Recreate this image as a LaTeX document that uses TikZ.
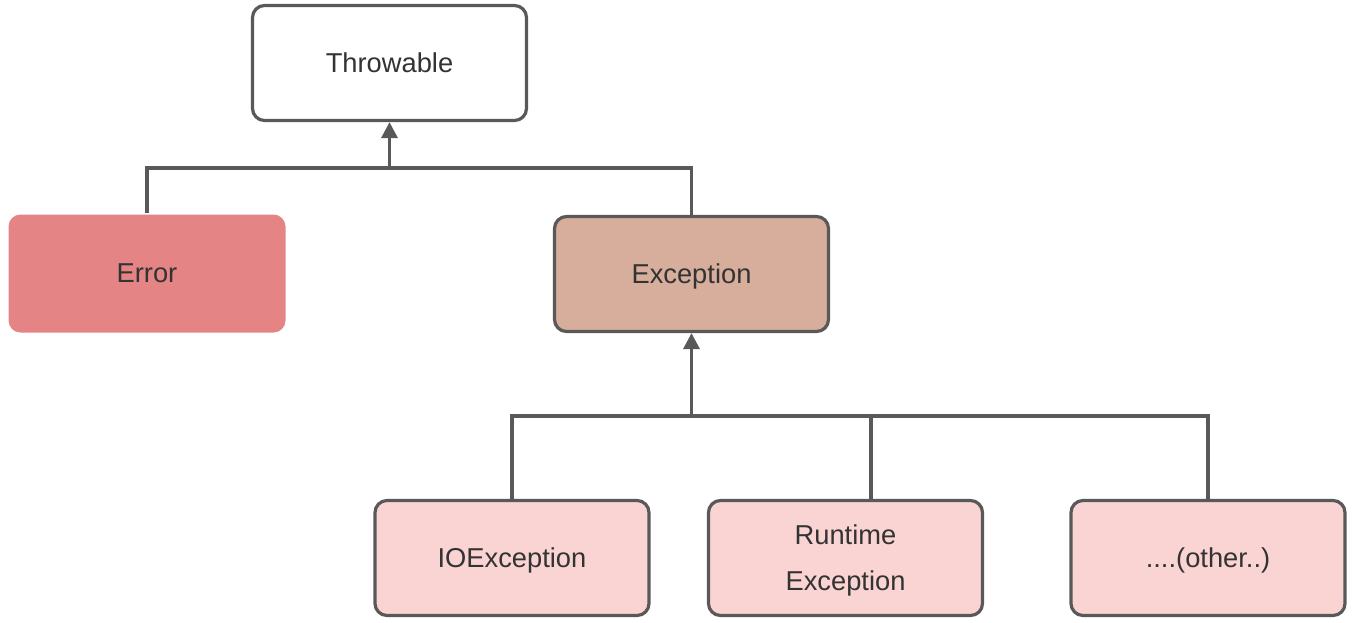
\documentclass[tikz,border=0pt]{standalone}
\usepackage{fontspec}
\setmainfont{Liberation Sans}
\usetikzlibrary{arrows.meta}
\definecolor{linegray}{HTML}{595959}
\definecolor{txt}{HTML}{333333}
\definecolor{errfill}{HTML}{E48484}
\definecolor{excfill}{HTML}{D6AE9B}
\definecolor{subfill}{HTML}{FAD4D2}
\tikzset{
  box/.style={rounded corners=12pt, minimum width=274pt, minimum height=115pt,
    line width=3.2pt, draw=linegray, text=txt, align=center,
    font=\fontsize{27.3}{46}\selectfont, inner sep=0pt},
  noborder/.style={draw=none, minimum width=277pt, minimum height=118pt},
  conn/.style={line width=3.2pt, draw=linegray},
  arr/.style={conn, -{Triangle[width=16pt,length=16pt]}}
}
\begin{document}
\begin{tikzpicture}[x=1pt,y=-1pt]
\useasboundingbox (0,0) rectangle (1355,622);
\node[box, fill=white] (thr) at (389.5,63) {\strut Throwable};
\node[box, noborder, fill=errfill] (err) at (147,273.5) {\strut Error};
\node[box, fill=excfill] (exc) at (691.5,274) {\strut Exception};
\node[box, fill=subfill] (io) at (512,558) {\strut IOException};
\node[box, fill=subfill, text depth=-3pt] (rt) at (845.5,558) {Runtime\\Exception};
\node[box, fill=subfill] (oth) at (1208,558) {\strut ....(other..)};
\coordinate (j1) at (389.5,168);
\coordinate (j2) at (691.5,416);
\draw[conn] (err.north) |- (j1) -| (exc.north);
\draw[arr] (j1) -- (thr.south);
\draw[conn] (io.north) |- (j2) -- (1208,416) -- (oth.north);
\draw[conn] (871,416) -- (871,499);
\draw[arr] (j2) -- (exc.south);
\end{tikzpicture}
\end{document}
